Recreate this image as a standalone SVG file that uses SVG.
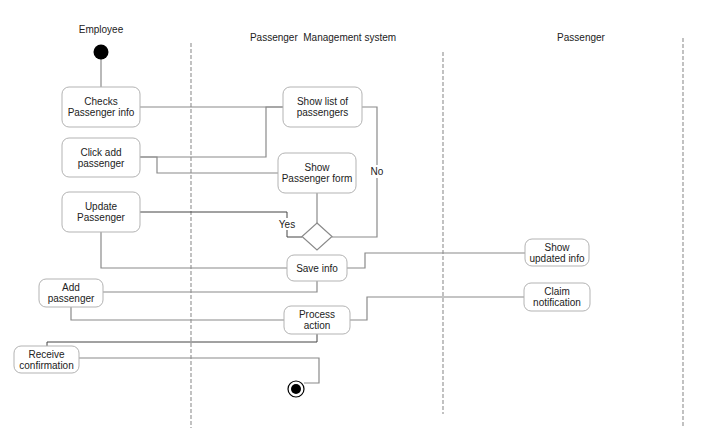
<svg xmlns="http://www.w3.org/2000/svg" width="701" height="428" viewBox="0 0 701 428">
<style>
text{font-family:"Liberation Sans",Arial,sans-serif;font-size:10px;fill:#222;text-anchor:middle}
.box{fill:#fff;stroke:#b3b3b3;stroke-width:1}
.lane{stroke:#999;stroke-width:1.2;stroke-dasharray:4,2;fill:none}
.c{fill:none;stroke:#8a8a8a;stroke-width:1.2}
.d{fill:none;stroke:#444;stroke-width:1}
.lbl{fill:#fff}
</style>
<rect width="701" height="428" fill="#fff"/>
<g id="lanes">
<line class="lane" x1="191" y1="43" x2="191" y2="428"/>
<line class="lane" x1="443" y1="52" x2="443" y2="414"/>
<line class="lane" x1="683" y1="38" x2="683" y2="428"/>
<text x="101" y="33">Employee</text>
<text x="323" y="41" xml:space="preserve">Passenger  Management system</text>
<text x="581" y="41">Passenger</text>
</g>
<g id="connectors">
<path class="c" d="M101,59V87"/>
<path class="c" d="M140,107H283"/>
<path class="c" d="M140,157H266V107H283"/>
<path class="c" d="M140,157H157V173H278"/>
<path class="c" d="M362,107H377V237H332"/>
<path class="c" d="M317,193V223"/>
<path class="d" d="M140,212H287V237H302"/>
<path class="c" d="M101,232V268H287"/>
<path class="c" d="M347,268H365V253H525"/>
<path class="c" d="M317,281V292H103"/>
<path class="c" d="M71,307V320H284"/>
<path class="c" d="M350,320H367V297H524"/>
<path class="d" d="M317,334V342H47V346"/>
<path class="c" d="M79,358H319V383H304"/>
<rect class="lbl" x="369" y="165" width="16" height="13"/>
<text x="377" y="175">No</text>
<rect class="lbl" x="278" y="218" width="18" height="12"/>
<text x="287" y="228">Yes</text>
</g>
<g id="start"><circle cx="101" cy="52" r="7.5" fill="#000"/></g>
<g id="checks"><rect class="box" x="62" y="87" width="78" height="40" rx="7"/><text x="101" y="105">Checks</text><text x="101" y="116">Passenger info</text></g>
<g id="clickadd"><rect class="box" x="62" y="138" width="78" height="39" rx="7"/><text x="101" y="155.5">Click add</text><text x="101" y="166.5">passenger</text></g>
<g id="update"><rect class="box" x="62" y="192" width="78" height="40" rx="7"/><text x="101" y="210">Update</text><text x="101" y="221">Passenger</text></g>
<g id="showlist"><rect class="box" x="283" y="87" width="79" height="40" rx="7"/><text x="322.5" y="105">Show list of</text><text x="322.5" y="116">passengers</text></g>
<g id="showform"><rect class="box" x="278" y="153" width="78" height="40" rx="7"/><text x="317" y="171">Show</text><text x="317" y="182">Passenger form</text></g>
<g id="decision"><polygon points="317,223 332,236.5 317,250 302,236.5" fill="#fff" stroke="#8a8a8a" stroke-width="1.2"/></g>
<g id="saveinfo"><rect class="box" x="287" y="255" width="60" height="26" rx="7"/><text x="317" y="271.5">Save info</text></g>
<g id="showupdated"><rect class="box" x="525" y="239" width="64" height="27" rx="7"/><text x="557" y="250.5">Show</text><text x="557" y="261.5">updated info</text></g>
<g id="addpass"><rect class="box" x="39" y="279" width="64" height="28" rx="7"/><text x="71" y="291">Add</text><text x="71" y="302">passenger</text></g>
<g id="claim"><rect class="box" x="524" y="283" width="66" height="28" rx="7"/><text x="557" y="295">Claim</text><text x="557" y="306">notification</text></g>
<g id="process"><rect class="box" x="284" y="306" width="66" height="28" rx="7"/><text x="317" y="318">Process</text><text x="317" y="329">action</text></g>
<g id="receive"><rect class="box" x="14" y="346" width="65" height="27" rx="7"/><text x="46.5" y="357.5">Receive</text><text x="46.5" y="368.5">confirmation</text></g>
<g id="end"><circle cx="296" cy="389" r="8" fill="#fff" stroke="#000" stroke-width="1.2"/><circle cx="296" cy="389" r="5" fill="#000"/></g>
</svg>
